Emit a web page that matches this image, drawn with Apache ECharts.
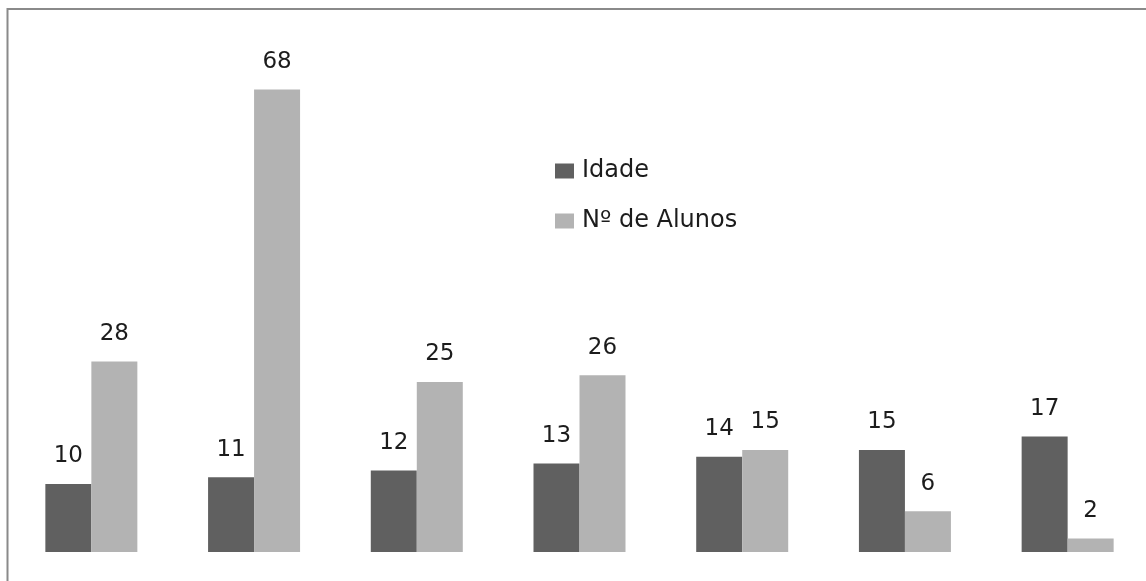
<!DOCTYPE html>
<html>
<head>
<meta charset="utf-8">
<script src="https://cdn.jsdelivr.net/npm/echarts@6/dist/echarts.min.js"></script>
<style>
  html, body { margin: 0; padding: 0; background: #fff; overflow: hidden; }
  #chart { width: 1152px; height: 581px; }
</style>
</head>
<body>
<div id="chart"></div>
<script>
const categories = ['G1', 'G2', 'G3', 'G4', 'G5', 'G6', 'G7']
const idade = [10, 11, 12, 13, 14, 15, 17]
const alunos = [28, 68, 25, 26, 15, 6, 2]
const seriesNames = ['Idade', 'Nº de Alunos']

const chart = echarts.init(document.getElementById('chart'))

const labelStyle = {
  show: true,
  position: 'top',
  distance: 16,
  color: '#1c1c1c',
  fontFamily: 'DejaVu Sans',
  fontSize: 23
}

// the plot runs a little past the right edge of the window in the original
chart.setOption({
  backgroundColor: '#fff',
  animation: false,
  grid: { left: 10, top: 76, width: 1139, bottom: 29 },
  legend: {
    orient: 'vertical',
    left: 550,
    top: 154,
    itemWidth: 19,
    itemHeight: 15,
    itemGap: 26,
    icon: 'rect',
    textStyle: { fontFamily: 'DejaVu Sans', fontSize: 24, color: '#1c1c1c', padding: [0, 0, 0, 3] },
    data: seriesNames
  },
  xAxis: {
    type: 'category',
    data: categories,
    axisLine: { show: false },
    axisTick: { show: false },
    axisLabel: { show: false }
  },
  yAxis: {
    type: 'value',
    min: 0,
    max: 70,
    axisLine: { show: false },
    axisTick: { show: false },
    axisLabel: { show: false },
    splitLine: { show: false }
  },
  graphic: [
    {
      type: 'polyline',
      silent: true,
      shape: { points: [[7.5, 581], [7.5, 9], [1152, 9]] },
      style: { stroke: '#8a8a8a', lineWidth: 2, fill: null }
    }
  ],
  series: [
    {
      name: seriesNames[0],
      type: 'bar',
      data: idade,
      barWidth: 46,
      barGap: '0%',
      itemStyle: { color: '#606060' },
      label: labelStyle
    },
    {
      name: seriesNames[1],
      type: 'bar',
      data: alunos,
      barWidth: 46,
      itemStyle: { color: '#b3b3b3' },
      label: labelStyle
    }
  ]
})
</script>
</body>
</html>
